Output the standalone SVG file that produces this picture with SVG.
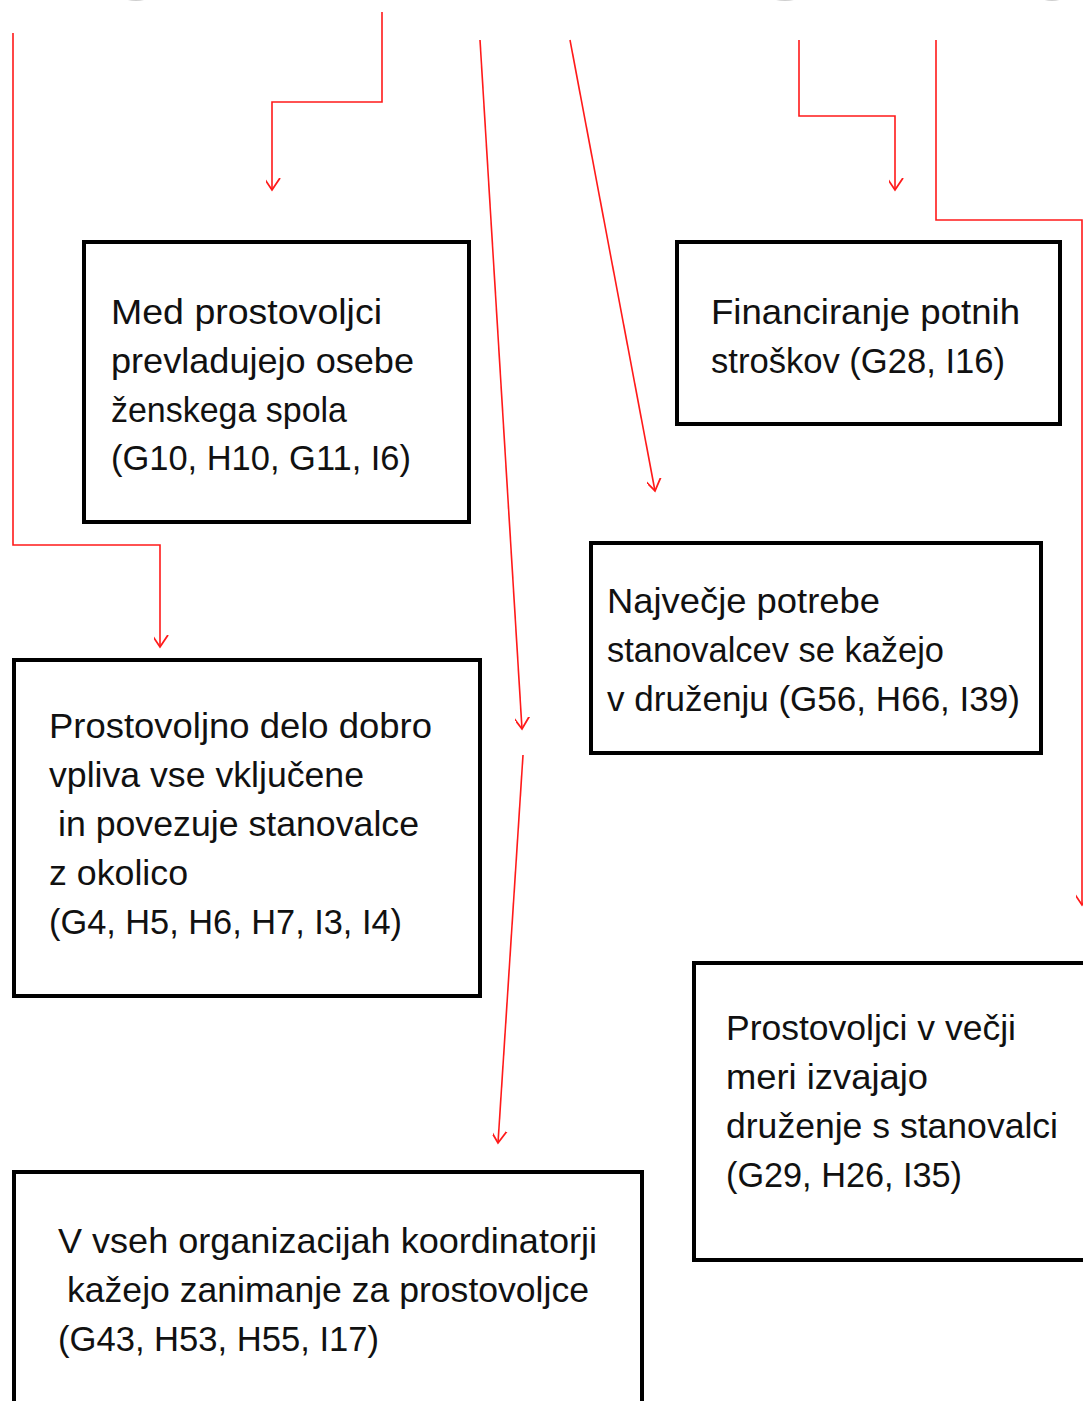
<svg xmlns="http://www.w3.org/2000/svg" width="1083" height="1401" viewBox="0 0 1083 1401">
<style>
.box{fill:#fff;stroke:#000;stroke-width:4}
.t{font-family:"Liberation Sans",Arial,sans-serif;font-size:35px;fill:#111}
.c{fill:none;stroke:#ff1a1a;stroke-width:1.6}
.frag{fill:#e8e8e8;stroke:#cfcfcf;stroke-width:2}
</style>
<defs>
<marker id="arr" markerUnits="userSpaceOnUse" markerWidth="24" markerHeight="24" viewBox="-12 -16 24 20" refX="0" refY="0" orient="auto-start-reverse">
<path d="M-12,-8 L0,0 L-12,8" transform="rotate(0)" fill="none" stroke="#ff1a1a" stroke-width="1.8"/>
</marker>
</defs>
<rect width="1083" height="1401" fill="#fff"/>
<g id="fragments">
<ellipse class="frag" cx="136" cy="-10" rx="18" ry="10"/>
<ellipse class="frag" cx="785" cy="-10" rx="20" ry="10"/>
<ellipse class="frag" cx="1052" cy="-10" rx="16" ry="10"/>
</g>
<g id="connectors">
<path class="c" d="M13,33 V545 H160 V647" marker-end="url(#arr)"/>
<path class="c" d="M382,12 V102 H272 V190" marker-end="url(#arr)"/>
<path class="c" d="M480,40 L522,729" marker-end="url(#arr)"/>
<path class="c" d="M523,755 L498,1143" marker-end="url(#arr)"/>
<path class="c" d="M570,40 L655,491" marker-end="url(#arr)"/>
<path class="c" d="M799,40 V116 H895 V190" marker-end="url(#arr)"/>
<path class="c" d="M936,40 V220 H1082 V905" marker-end="url(#arr)"/>
</g>
<g id="node1">
<rect class="box" x="84" y="242" width="385" height="280"/>
<text class="t" x="111" y="324" textLength="271" lengthAdjust="spacingAndGlyphs">Med prostovoljci</text>
<text class="t" x="111" y="373" textLength="303" lengthAdjust="spacingAndGlyphs">prevladujejo osebe</text>
<text class="t" x="111" y="422" textLength="236" lengthAdjust="spacingAndGlyphs">ženskega spola</text>
<text class="t" x="111" y="470" textLength="300" lengthAdjust="spacingAndGlyphs">(G10, H10, G11, I6)</text>
</g>
<g id="node2">
<rect class="box" x="677" y="242" width="383" height="182"/>
<text class="t" x="711" y="324" textLength="309" lengthAdjust="spacingAndGlyphs">Financiranje potnih</text>
<text class="t" x="711" y="373" textLength="294" lengthAdjust="spacingAndGlyphs">stroškov (G28, I16)</text>
</g>
<g id="node3">
<rect class="box" x="591" y="543" width="450" height="210"/>
<text class="t" x="607" y="613" textLength="273" lengthAdjust="spacingAndGlyphs">Največje potrebe</text>
<text class="t" x="607" y="662" textLength="337" lengthAdjust="spacingAndGlyphs">stanovalcev se kažejo</text>
<text class="t" x="607" y="711" textLength="413" lengthAdjust="spacingAndGlyphs">v druženju (G56, H66, I39)</text>
</g>
<g id="node4">
<rect class="box" x="14" y="660" width="466" height="336"/>
<text class="t" x="49" y="738" textLength="383" lengthAdjust="spacingAndGlyphs">Prostovoljno delo dobro</text>
<text class="t" x="49" y="787" textLength="315" lengthAdjust="spacingAndGlyphs">vpliva vse vključene</text>
<text class="t" x="58" y="836" textLength="361" lengthAdjust="spacingAndGlyphs">in povezuje stanovalce</text>
<text class="t" x="49" y="885" textLength="139" lengthAdjust="spacingAndGlyphs">z okolico</text>
<text class="t" x="49" y="934" textLength="353" lengthAdjust="spacingAndGlyphs">(G4, H5, H6, H7, I3, I4)</text>
</g>
<g id="node5">
<rect class="box" x="694" y="963" width="395" height="297"/>
<text class="t" x="726" y="1040" textLength="290" lengthAdjust="spacingAndGlyphs">Prostovoljci v večji</text>
<text class="t" x="726" y="1089" textLength="202" lengthAdjust="spacingAndGlyphs">meri izvajajo</text>
<text class="t" x="726" y="1138" textLength="332" lengthAdjust="spacingAndGlyphs">druženje s stanovalci</text>
<text class="t" x="726" y="1187" textLength="236" lengthAdjust="spacingAndGlyphs">(G29, H26, I35)</text>
</g>
<g id="node6">
<rect class="box" x="14" y="1172" width="628" height="240"/>
<text class="t" x="58" y="1253" textLength="539" lengthAdjust="spacingAndGlyphs">V vseh organizacijah koordinatorji</text>
<text class="t" x="67" y="1302" textLength="522" lengthAdjust="spacingAndGlyphs">kažejo zanimanje za prostovoljce</text>
<text class="t" x="58" y="1351" textLength="321" lengthAdjust="spacingAndGlyphs">(G43, H53, H55, I17)</text>
</g>
</svg>
